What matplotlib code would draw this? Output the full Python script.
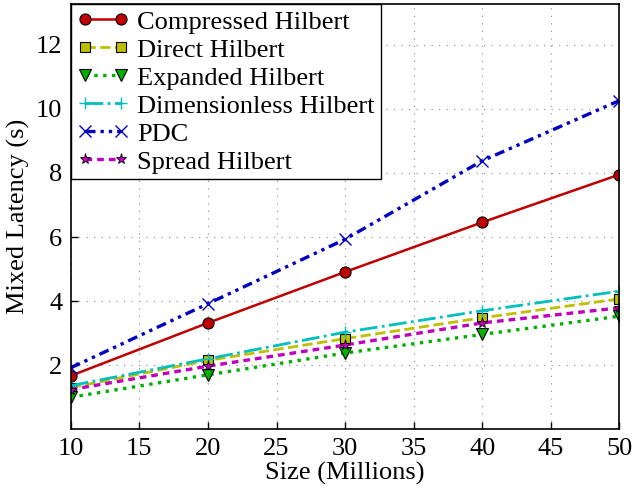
import numpy as np
import matplotlib
matplotlib.use('Agg')
import matplotlib.pyplot as plt

# data sizes (millions) and mixed latency (s) per curve
sizes = [10, 20, 30, 40, 50]
compressed = [1.67, 3.32, 4.91, 6.46, 7.95]
direct = [1.30, 2.15, 2.83, 3.48, 4.07]
expanded = [1.00, 1.70, 2.38, 2.96, 3.53]
dimensionless = [1.36, 2.20, 3.03, 3.70, 4.31]
pdc = [1.92, 3.92, 5.93, 8.38, 10.26]
spread = [1.24, 1.97, 2.63, 3.32, 3.79]

plt.rcParams.update({'font.family': 'Liberation Serif', 'font.size': 19,
                     'xtick.direction': 'in', 'ytick.direction': 'in'})

fig = plt.figure(figsize=(6.32, 4.94), dpi=100)
ax = fig.add_axes([0.112, 0.131, 0.868, 0.860])

ax.plot(sizes, compressed, '-', color='#c00000', marker='o', ms=8, lw=1.8,
        mec='black', mew=0.8, label='Compressed Hilbert')
ax.plot(sizes, direct, '--', color='#bfbf00', marker='s', ms=7, lw=2.0,
        mec='black', mew=0.8, label='Direct Hilbert')
ax.plot(sizes, expanded, ':', color='#00b000', marker='v', ms=8, lw=2.4,
        mec='black', mew=0.8, label='Expanded Hilbert')
ax.plot(sizes, dimensionless, '-.', color='#00bfbf', marker='+', ms=9, lw=2.0,
        mew=1.0, label='Dimensionless Hilbert')
ax.plot(sizes, pdc, color='#0000c0', marker='x', ms=9, lw=2.4,
        dashes=(3, 1.5, 1, 1.5, 1, 1.5), mew=1.0, label='PDC')
ax.plot(sizes, spread, color='#bf00bf', marker='*', ms=8, lw=2.4,
        dashes=(2, 1.5), mec='black', mew=0.6, label='Spread Hilbert')

ax.set_xlim(10, 50)
ax.set_ylim(0, 13.26)
ax.set_xticks(np.arange(10, 51, 5))
ax.set_yticks([2, 4, 6, 8, 10, 12])
ax.tick_params(length=5, width=1, pad=6)
ax.grid(True, linestyle=(0, (1, 5)), color='#999999', linewidth=0.9)
for s in ax.spines.values():
    s.set_linewidth(1.2)

ax.set_xlabel('Size (Millions)', labelpad=2)
ax.set_ylabel('Mixed Latency (s)', labelpad=4)

leg = ax.legend(loc='upper left', numpoints=2, borderaxespad=0, fancybox=False,
                framealpha=1, edgecolor='black', handlelength=2.0,
                handletextpad=0.3, labelspacing=0.17, borderpad=0.22,
                fontsize=19)
leg.get_frame().set_linewidth(1.0)

fig.savefig('out.png', dpi=100)
